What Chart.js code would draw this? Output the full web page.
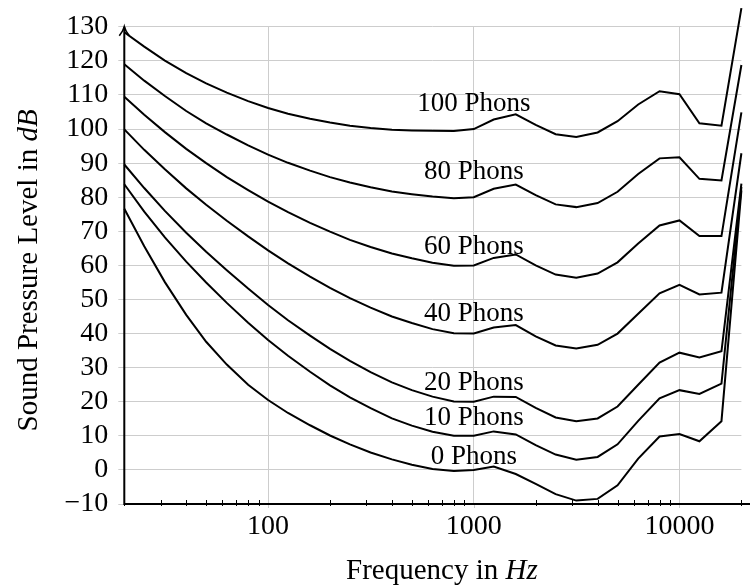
<!DOCTYPE html>
<html>
<head>
<meta charset="utf-8">
<script src="https://cdn.jsdelivr.net/npm/chart.js@4.4.1/dist/chart.umd.min.js"></script>
<style>
    html, body { margin: 0; padding: 0; background: #fff; }
</style>
</head>
<body>
<canvas id="chart" width="750" height="588"></canvas>
<script>
// frequencies in Hz
const frequencies = [20, 25, 31.5, 40, 50, 63, 80, 100, 125, 160, 200, 250, 315, 400, 500, 630, 800,
    1000, 1250, 1600, 2000, 2500, 3150, 4000, 5000, 6300, 8000, 10000, 12500, 16000, 20000];

// sound pressure level (dB) per contour
const phon0 = [76.6, 65.6, 55.1, 45.5, 37.6, 30.9, 25.0, 20.5, 16.7, 13.1, 10.1, 7.5, 5.1, 3.1, 1.5, 0.3, -0.3,
    0.0, 1.0, -1.2, -4.1, -7.1, -9.0, -8.5, -4.5, 3.3, 9.8, 10.5, 8.4, 14.3, 82.0];
const phon10 = [83.8, 75.8, 68.2, 61.1, 55.0, 49.0, 43.2, 38.1, 33.5, 28.8, 24.8, 21.3, 18.1, 15.1, 13.0, 11.2, 10.0,
    10.0, 11.3, 10.4, 7.3, 4.5, 3.0, 3.8, 7.5, 14.4, 21.0, 23.4, 22.3, 25.3, 83.0];
const phon20 = [89.6, 82.7, 76.0, 69.6, 64.0, 58.6, 53.2, 48.4, 43.9, 39.4, 35.5, 32.0, 28.7, 25.7, 23.4, 21.5, 20.1,
    20.0, 21.5, 21.4, 18.2, 15.4, 14.3, 15.1, 18.6, 25.0, 31.5, 34.4, 33.0, 34.8, 84.0];
const phon40 = [99.9, 93.9, 88.2, 82.6, 77.8, 73.1, 68.5, 64.4, 60.6, 56.7, 53.4, 50.4, 47.6, 45.0, 43.1, 41.3, 40.1,
    40.0, 41.8, 42.5, 39.2, 36.5, 35.6, 36.7, 40.0, 45.8, 51.8, 54.3, 51.5, 52.0, 92.9];
const phon60 = [109.5, 104.2, 99.1, 94.2, 90.0, 85.9, 82.1, 78.7, 75.6, 72.5, 69.9, 67.5, 65.4, 63.5, 62.1, 60.8, 59.9,
    60.0, 62.2, 63.2, 60.0, 57.3, 56.4, 57.6, 60.9, 66.4, 71.7, 73.2, 68.6, 68.6, 104.9];
const phon80 = [119.0, 114.2, 109.7, 105.3, 101.7, 98.4, 95.2, 92.5, 90.1, 87.8, 85.9, 84.3, 82.9, 81.7, 80.9, 80.2, 79.7,
    80.0, 82.5, 83.7, 80.6, 77.9, 77.1, 78.3, 81.6, 86.8, 91.4, 91.7, 85.4, 84.9, 118.8];
const phon100 = [128.4, 124.2, 120.1, 116.4, 113.4, 110.7, 108.2, 106.2, 104.5, 103.0, 101.9, 101.0, 100.3, 99.8, 99.6, 99.5, 99.4,
    100.0, 102.8, 104.3, 101.2, 98.5, 97.7, 99.0, 102.3, 107.2, 111.1, 110.2, 101.7, 101.0, 135.5];

const contours = [phon0, phon10, phon20, phon40, phon60, phon80, phon100];

// contour labels, placed in data units
const labelTexts = ['0 Phons', '10 Phons', '20 Phons', '40 Phons', '60 Phons', '80 Phons', '100 Phons'];
const labelFreq = [1000, 1000, 1000, 1000, 1000, 1000, 1000];
const labelLevel = [3.7, 15.4, 25.6, 45.7, 65.4, 87.5, 107.4];

// axis ticks
const majorTicks = [100, 1000, 10000];
const minorTicks = [20, 30, 40, 50, 60, 70, 80, 90, 200, 300, 400, 500, 600, 700, 800, 900,
    2000, 3000, 4000, 5000, 6000, 7000, 8000, 9000, 20000];
const yMin = -10;
const yMax = 130;
const yStep = 10;

const GRID = '#cdcdcd';
const SERIF = "'Liberation Serif', 'Times New Roman', serif";

Chart.defaults.font.family = SERIF;
Chart.defaults.color = '#000';

function drawMixed(ctx, parts, size) {
    // parts: [[text, style], ...] centered around 0 on the baseline
    let widths = parts.map(p => {
        ctx.font = `${p[1]} ${size}px ${SERIF}`;
        return ctx.measureText(p[0]).width;
    });
    let total = widths.reduce((a, b) => a + b, 0);
    let x = -total / 2;
    ctx.textAlign = 'left';
    ctx.textBaseline = 'alphabetic';
    parts.forEach((p, i) => {
        ctx.font = `${p[1]} ${size}px ${SERIF}`;
        ctx.fillText(p[0], x, 0);
        x += widths[i];
    });
}

const decorations = {
    id: 'decorations',
    afterDatasetsDraw(chart) {
        const {ctx, scales: {x, y}} = chart;
        ctx.save();
        ctx.font = `27px ${SERIF}`;
        ctx.fillStyle = '#000';
        ctx.textAlign = 'center';
        ctx.textBaseline = 'middle';
        labelTexts.forEach((t, i) => {
            ctx.fillText(t, x.getPixelForValue(labelFreq[i]), y.getPixelForValue(labelLevel[i]));
        });
        ctx.restore();
    },
    afterDraw(chart) {
        const {ctx, chartArea: a, scales: {x}} = chart;
        ctx.save();

        // x tick marks
        x.ticks.forEach(t => {
            let px = Math.round(x.getPixelForValue(t.value)) + 0.5;
            ctx.beginPath();
            if (majorTicks.includes(t.value)) {
                ctx.strokeStyle = GRID;
                ctx.moveTo(px, a.bottom);
                ctx.lineTo(px, a.bottom + 4);
            } else {
                ctx.strokeStyle = '#000';
                ctx.moveTo(px, a.bottom - 4);
                ctx.lineTo(px, a.bottom + 2);
            }
            ctx.lineWidth = 1;
            ctx.stroke();
        });

        // axis lines
        ctx.strokeStyle = '#000';
        ctx.lineWidth = 2;
        ctx.beginPath();
        ctx.moveTo(a.left - 1, a.bottom);
        ctx.lineTo(chart.width, a.bottom);
        ctx.moveTo(a.left, a.bottom);
        ctx.lineTo(a.left, a.top);
        ctx.stroke();

        // arrow head on the y axis
        ctx.lineWidth = 1.6;
        ctx.beginPath();
        ctx.moveTo(a.left - 5, a.top + 9);
        ctx.quadraticCurveTo(a.left - 1, a.top + 4, a.left, a.top);
        ctx.quadraticCurveTo(a.left + 1, a.top + 4, a.left + 5, a.top + 9);
        ctx.stroke();

        // axis titles
        ctx.fillStyle = '#000';
        ctx.save();
        ctx.translate((a.left + a.right) / 2 + 9, a.bottom + 75);
        drawMixed(ctx, [['Frequency in ', 'normal'], ['Hz', 'italic']], 29);
        ctx.restore();

        ctx.save();
        ctx.translate(36.5, (a.top + a.bottom) / 2 + 5);
        ctx.rotate(-Math.PI / 2);
        drawMixed(ctx, [['Sound Pressure Level in ', 'normal'], ['dB', 'italic']], 29);
        ctx.restore();

        ctx.restore();
    }
};

const datasets = contours.map((series, k) => ({
    label: labelTexts[k],
    data: frequencies.map((f, i) => ({x: f, y: series[i]})),
    borderColor: '#000',
    borderWidth: 2,
    pointRadius: 0,
    tension: 0,
    fill: false,
    clip: false
}));

new Chart(document.getElementById('chart'), {
    type: 'line',
    data: {datasets: datasets},
    plugins: [decorations],
    options: {
        responsive: false,
        devicePixelRatio: 1,
        animation: false,
        layout: {padding: {left: 0, right: 8.6, top: 18.5, bottom: 0}},
        plugins: {
            legend: {display: false},
            tooltip: {enabled: false}
        },
        scales: {
            x: {
                type: 'logarithmic',
                min: 20,
                max: 20000,
                afterBuildTicks: scale => {
                    scale.ticks = [...minorTicks, ...majorTicks]
                        .sort((a, b) => a - b)
                        .map(v => ({value: v, major: majorTicks.includes(v)}));
                },
                afterFit: scale => { scale.height = 84; },
                ticks: {
                    autoSkip: false,
                    maxRotation: 0,
                    padding: 6,
                    font: {size: 28},
                    callback: v => majorTicks.includes(v) ? String(v) : ''
                },
                grid: {
                    color: c => (c.tick && majorTicks.includes(c.tick.value)) ? GRID : 'rgba(0,0,0,0)',
                    drawTicks: false,
                    tickLength: 4
                },
                border: {display: false}
            },
            y: {
                min: yMin,
                max: yMax,
                afterFit: scale => { scale.width = 124.3; },
                ticks: {
                    stepSize: yStep,
                    autoSkip: false,
                    padding: 10,
                    font: {size: 28},
                    callback: v => v < 0 ? '\u2212' + Math.abs(v) : String(v)
                },
                grid: {
                    color: GRID,
                    tickLength: 6,
                    tickColor: GRID
                },
                border: {display: false}
            }
        }
    }
});
</script>
</body>
</html>
